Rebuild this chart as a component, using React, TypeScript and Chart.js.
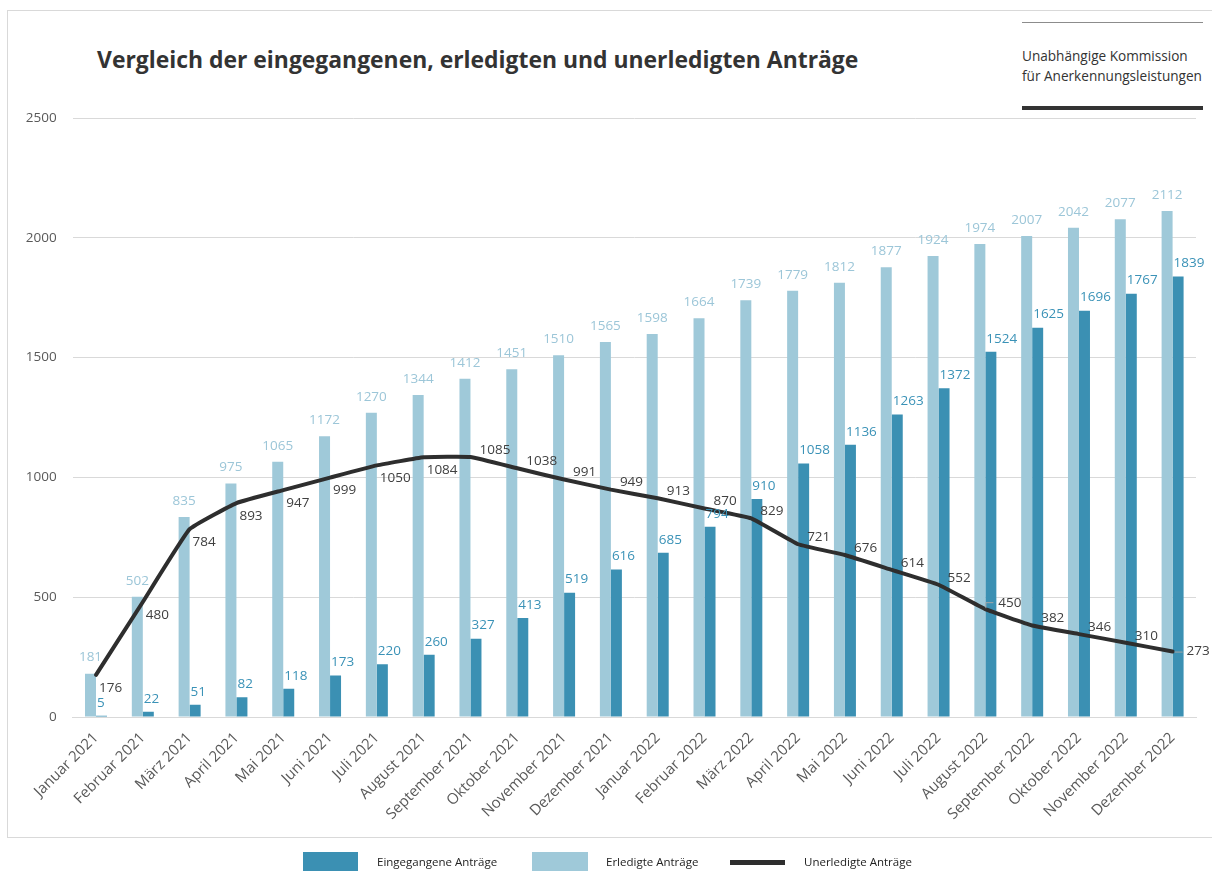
import React, { useEffect, useRef } from 'react';
import { Chart, registerables } from 'chart.js';

Chart.register(...registerables);

const CATEGORIES = [
  'Januar 2021', 'Februar 2021', 'März 2021', 'April 2021', 'Mai 2021', 'Juni 2021',
  'Juli 2021', 'August 2021', 'September 2021', 'Oktober 2021', 'November 2021', 'Dezember 2021',
  'Januar 2022', 'Februar 2022', 'März 2022', 'April 2022', 'Mai 2022', 'Juni 2022',
  'Juli 2022', 'August 2022', 'September 2022', 'Oktober 2022', 'November 2022', 'Dezember 2022',
];

const EINGEGANGEN = [5, 22, 51, 82, 118, 173, 220, 260, 327, 413, 519, 616, 685, 794, 910, 1058, 1136, 1263, 1372, 1524, 1625, 1696, 1767, 1839];
const ERLEDIGT = [181, 502, 835, 975, 1065, 1172, 1270, 1344, 1412, 1451, 1510, 1565, 1598, 1664, 1739, 1779, 1812, 1877, 1924, 1974, 2007, 2042, 2077, 2112];
const UNERLEDIGT = [176, 480, 784, 893, 947, 999, 1050, 1084, 1085, 1038, 991, 949, 913, 870, 829, 721, 676, 614, 552, 450, 382, 346, 310, 273];

const SERIES_NAMES = ['Eingegangene Anträge', 'Erledigte Anträge', 'Unerledigte Anträge'];
const Y_MIN = 0;
const Y_MAX = 2500;
const Y_STEP = 500;

const TITLE = 'Vergleich der eingegangenen, erledigten und unerledigten Anträge';
const LOGO_LINES = ['Unabhängige Kommission', 'für Anerkennungsleistungen'];

// style: where each line value label sits relative to its point
const LINE_LABEL_PLACEMENT = [
  'below', 'below', 'below', 'below', 'below', 'below', 'below', 'below',
  'above', 'above', 'above', 'above', 'above', 'above', 'above', 'above',
  'above', 'above', 'above', 'leader', 'above', 'above', 'above', 'right',
];

const FONT = '"Open Sans", "Noto Sans", sans-serif';
const DARK = '#3b90b3';
const LIGHT = '#9fc9d9';
const DARK_LABEL = '#3a92b7';
const LIGHT_LABEL = '#9cc6d8';
const LINE = '#2e2e2e';
const AXIS_TEXT = '#595959';
const GRID = '#d9d9d9';

const labelPlugin = {
  id: 'valueLabels',
  afterDatasetsDraw(chart: any) {
    const ctx = chart.ctx;
    ctx.save();
    ctx.font = `13.5px ${FONT}`;
    ctx.textBaseline = 'middle';

    const lightMeta = chart.getDatasetMeta(1).data;
    ctx.fillStyle = LIGHT_LABEL;
    ctx.textAlign = 'center';
    lightMeta.forEach((el: any, i: number) => {
      ctx.fillText(String(ERLEDIGT[i]), el.x, el.y - 16);
    });

    const darkMeta = chart.getDatasetMeta(2).data;
    ctx.fillStyle = DARK_LABEL;
    ctx.textAlign = 'left';
    darkMeta.forEach((el: any, i: number) => {
      ctx.fillText(String(EINGEGANGEN[i]), el.x - el.width / 2 + 1, el.y - 13);
    });

    const lineMeta = chart.getDatasetMeta(0).data;
    ctx.fillStyle = '#404040';
    ctx.textAlign = 'left';
    lineMeta.forEach((el: any, i: number) => {
      const p = LINE_LABEL_PLACEMENT[i];
      const txt = String(UNERLEDIGT[i]);
      if (p === 'below') {
        ctx.fillText(txt, el.x + 3, el.y + 13);
      } else if (p === 'above') {
        ctx.fillText(txt, el.x + 9, el.y - 7);
      } else if (p === 'leader') {
        ctx.strokeStyle = '#a6a6a6';
        ctx.lineWidth = 1;
        ctx.beginPath();
        ctx.moveTo(el.x + 0.5, el.y - 1);
        ctx.lineTo(el.x + 0.5, el.y - 6.5);
        ctx.lineTo(el.x + 8, el.y - 6.5);
        ctx.stroke();
        ctx.fillText(txt, el.x + 13, el.y - 6);
      } else {
        ctx.strokeStyle = '#a6a6a6';
        ctx.lineWidth = 1;
        ctx.beginPath();
        ctx.moveTo(el.x + 2, el.y + 0.5);
        ctx.lineTo(el.x + 10, el.y + 0.5);
        ctx.stroke();
        ctx.fillText(txt, el.x + 14, el.y);
      }
    });
    ctx.restore();
  },
};

function ChartCanvas() {
  const ref = useRef<HTMLCanvasElement | null>(null);
  useEffect(() => {
    if (!ref.current) return;
    const chart = new Chart(ref.current, {
      type: 'bar',
      data: {
        labels: CATEGORIES,
        datasets: [
          {
            type: 'line',
            label: SERIES_NAMES[2],
            data: UNERLEDIGT,
            borderColor: LINE,
            backgroundColor: LINE,
            borderWidth: 4,
            pointRadius: 0,
            tension: 0.1,
            borderJoinStyle: 'round',
            borderCapStyle: 'round',
          } as any,
          {
            type: 'bar',
            label: SERIES_NAMES[1],
            data: ERLEDIGT,
            backgroundColor: LIGHT,
            categoryPercentage: 0.47,
            barPercentage: 1,
          },
          {
            type: 'bar',
            label: SERIES_NAMES[0],
            data: EINGEGANGEN,
            backgroundColor: DARK,
            categoryPercentage: 0.47,
            barPercentage: 1,
          },
        ],
      },
      options: {
        animation: false,
        responsive: true,
        maintainAspectRatio: false,
        devicePixelRatio: 1,
        layout: { padding: { left: 0, right: 16, top: 118, bottom: 0 } },
        plugins: {
          legend: { display: false },
          tooltip: { enabled: false },
          title: { display: false },
        },
        scales: {
          x: {
            grid: { display: false },
            border: { display: true, color: GRID, width: 1 },
            ticks: {
              color: AXIS_TEXT,
              font: { family: FONT, size: 15 },
              minRotation: 45,
              maxRotation: 45,
              autoSkip: false,
              padding: 4,
            },
            afterFit: (s: any) => { s.height = 154; },
          },
          y: {
            min: Y_MIN,
            max: Y_MAX,
            ticks: {
              stepSize: Y_STEP,
              color: AXIS_TEXT,
              font: { family: FONT, size: 13.5 },
              padding: 16,
              callback: (v: any) => String(v),
            },
            grid: { color: GRID, lineWidth: 1, drawTicks: false },
            border: { display: false },
            afterFit: (s: any) => { s.width = 72.6; },
          },
        },
      },
      plugins: [labelPlugin],
    });
    return () => chart.destroy();
  }, []);
  return <canvas ref={ref} />;
}

export default function App() {
  return (
    <div style={{ position: 'absolute', left: 0, top: 0, width: 1212, height: 871, overflow: 'hidden', background: '#fff', fontFamily: FONT }}>
      <div style={{ position: 'absolute', left: 7, top: 10, width: 1210, height: 826, border: `1px solid ${GRID}`, borderRight: 'none' }} />
      <div style={{ position: 'absolute', left: 97, top: 44, fontSize: 22.9, fontWeight: 700, color: '#333', whiteSpace: 'nowrap', lineHeight: '32px' }}>{TITLE}</div>
      <div style={{ position: 'absolute', left: 1022, top: 22, width: 181, height: 1, background: '#8c8c8c' }} />
      <div style={{ position: 'absolute', left: 1022, top: 46, fontSize: 13.6, color: '#333', lineHeight: '19.5px', whiteSpace: 'nowrap' }}>
        {LOGO_LINES.map((l) => <div key={l}>{l}</div>)}
      </div>
      <div style={{ position: 'absolute', left: 1022, top: 106, width: 181, height: 4, background: '#333' }} />
      <div style={{ position: 'absolute', left: 0, top: 0, width: 1212, height: 871 }}>
        <ChartCanvas />
      </div>
      <div style={{ position: 'absolute', left: 303, top: 852, width: 55, height: 19, background: DARK }} />
      <div style={{ position: 'absolute', left: 377, top: 854, fontSize: 11.5, color: '#222', lineHeight: '16px', whiteSpace: 'nowrap' }}>{SERIES_NAMES[0]}</div>
      <div style={{ position: 'absolute', left: 532, top: 852, width: 56, height: 19, background: LIGHT }} />
      <div style={{ position: 'absolute', left: 606, top: 854, fontSize: 11.5, color: '#222', lineHeight: '16px', whiteSpace: 'nowrap' }}>{SERIES_NAMES[1]}</div>
      <div style={{ position: 'absolute', left: 730, top: 860, width: 55, height: 5, background: LINE }} />
      <div style={{ position: 'absolute', left: 804, top: 854, fontSize: 11.5, color: '#222', lineHeight: '16px', whiteSpace: 'nowrap' }}>{SERIES_NAMES[2]}</div>
    </div>
  );
}
